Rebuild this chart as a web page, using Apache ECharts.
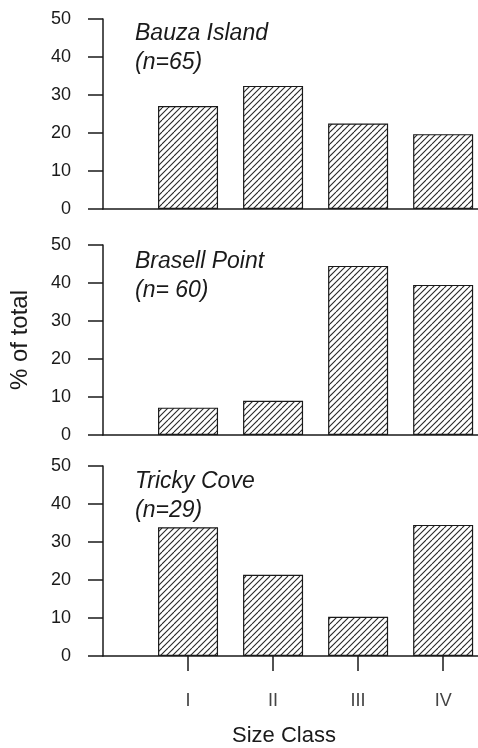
<!DOCTYPE html>
<html>
<head>
<meta charset="utf-8">
<script src="https://cdn.jsdelivr.net/npm/echarts@6/dist/echarts.min.js"></script>
<style>
html,body{margin:0;padding:0;background:#fff;}
#c{width:478px;height:748px;}
</style>
</head>
<body>
<div id="c"></div>
<script>
// Data
const classPositions = [1, 2, 3, 4];
const classLabels = ['I', 'II', 'III', 'IV'];
const bauzaIsland = [27.1, 32.4, 22.5, 19.7];
const brasellPoint = [7.2, 9.0, 44.5, 39.5];
const trickyCove = [33.9, 21.4, 10.3, 34.5];
const panelTitles = ['Bauza Island\n(n=65)', 'Brasell Point\n(n= 60)', 'Tricky Cove\n(n=29)'];
const yTicks = [0, 10, 20, 30, 40, 50];

const chart = echarts.init(document.getElementById('c'), null, {renderer: 'canvas'});

function hatch() {
  const size = 12, spacing = 6;
  const cv = document.createElement('canvas');
  cv.width = size; cv.height = size;
  const ctx = cv.getContext('2d');
  ctx.fillStyle = '#fff';
  ctx.fillRect(0, 0, size, size);
  ctx.strokeStyle = '#2a2a2a';
  ctx.lineWidth = 1.1;
  ctx.beginPath();
  for (let o = -size; o <= size * 2; o += spacing) {
    ctx.moveTo(o, size);
    ctx.lineTo(o + size, 0);
  }
  ctx.stroke();
  return cv;
}
const pattern = {image: hatch(), repeat: 'repeat'};

const font = '"Liberation Sans", Arial, sans-serif';
const grids = [
  {left: 103, right: 0, top: 19, bottom: 539},
  {left: 103, right: 0, top: 245, bottom: 313},
  {left: 103, right: 0, top: 466, bottom: 90}
];
const seriesData = [bauzaIsland, brasellPoint, trickyCove];

const lineStyle = {color: '#1a1a1a', width: 1.5};

const xAxes = grids.map((g, i) => ({
  type: 'value', gridIndex: i, min: 0, max: 4.41, interval: 1,
  axisLine: {show: true, onZero: false, lineStyle: lineStyle},
  splitLine: {show: false},
  axisTick: i === 2 ? {show: true, length: 15, inside: false, customValues: classPositions, lineStyle: lineStyle} : {show: false},
  axisLabel: i === 2 ? {
    show: true, margin: 36, fontSize: 18, color: '#444', fontFamily: font,
    customValues: classPositions,
    formatter: v => { const k = classPositions.indexOf(Math.round(v)); return k >= 0 ? classLabels[k] : ''; }
  } : {show: false},
  name: i === 2 ? 'Size Class' : '',
  nameLocation: 'middle', nameGap: 69,
  nameTextStyle: {fontSize: 22, color: '#1a1a1a', fontFamily: font, padding: [0, 13, 0, 0]}
}));

const yAxes = grids.map((g, i) => ({
  type: 'value', gridIndex: i, min: 0, max: 50, interval: 10,
  axisLine: {show: true, lineStyle: lineStyle},
  axisTick: {show: true, length: 15, inside: false, lineStyle: lineStyle},
  splitLine: {show: false},
  axisLabel: {margin: 32, fontSize: 18, color: '#1a1a1a', fontFamily: font},
  name: i === 1 ? '% of total' : '',
  nameLocation: 'middle', nameGap: 71,
  nameTextStyle: {fontSize: 24, color: '#1a1a1a', fontFamily: font}
}));

const series = seriesData.map((d, i) => ({
  type: 'bar', xAxisIndex: i, yAxisIndex: i,
  data: classPositions.map((p, k) => [p, d[k]]),
  barWidth: 60,
  itemStyle: {color: pattern, borderColor: '#1a1a1a', borderWidth: 1.2},
  silent: true, animation: false
}));

const titleTops = [19, 247, 467];
const titles = panelTitles.map((t, i) => ({
  text: t, left: 135, top: titleTops[i], padding: 0,
  textStyle: {fontSize: 23, fontStyle: 'italic', fontWeight: 'normal', color: '#1a1a1a', fontFamily: font, lineHeight: 29}
}));

chart.setOption({
  backgroundColor: '#fff',
  animation: false,
  title: titles,
  grid: grids,
  xAxis: xAxes,
  yAxis: yAxes,
  series: series
});
</script>
</body>
</html>
